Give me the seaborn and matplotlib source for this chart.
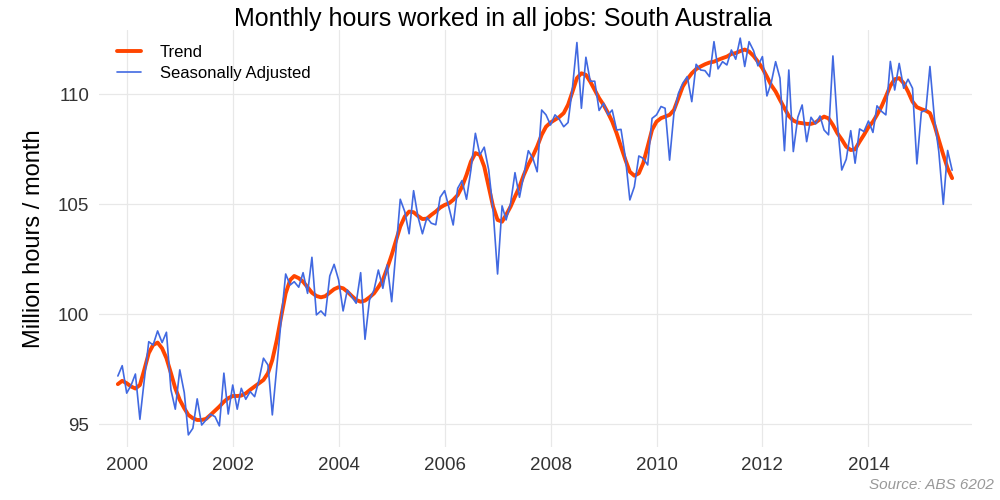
import pandas as pd
import numpy as np
import matplotlib
matplotlib.use("Agg")
import matplotlib.pyplot as plt
import matplotlib.dates as mdates
import seaborn as sns

# monthly series, Nov 1999 - Aug 2015 (million hours / month)
start_month = "1999-11-01"
n_months = 190

trend = [
    96.82, 96.97, 96.86, 96.71, 96.62, 96.78, 97.47, 98.23, 98.60, 98.71,
    98.45, 98.00, 97.32, 96.63, 96.10, 95.72, 95.42, 95.27, 95.19, 95.19,
    95.24, 95.42, 95.61, 95.80, 96.02, 96.18, 96.28, 96.28, 96.30, 96.40,
    96.56, 96.71, 96.86, 97.01, 97.32, 97.92, 98.83, 99.89, 100.95, 101.56,
    101.74, 101.64, 101.48, 101.23, 100.98, 100.83, 100.77, 100.82, 100.98, 101.14,
    101.23, 101.18, 101.03, 100.83, 100.65, 100.57, 100.62, 100.77, 100.95, 101.23,
    101.56, 102.09, 102.70, 103.38, 103.99, 104.44, 104.67, 104.64, 104.47, 104.33,
    104.35, 104.52, 104.67, 104.85, 104.97, 105.05, 105.20, 105.42, 105.80, 106.34,
    106.94, 107.33, 107.25, 106.72, 105.80, 104.90, 104.29, 104.21, 104.52, 104.90,
    105.35, 105.80, 106.34, 106.80, 107.20, 107.63, 108.16, 108.53, 108.72, 108.85,
    108.97, 109.15, 109.53, 110.13, 110.74, 110.96, 110.89, 110.58, 110.20, 109.83,
    109.52, 109.15, 108.77, 108.23, 107.62, 107.01, 106.48, 106.30, 106.41, 106.87,
    107.63, 108.39, 108.76, 108.92, 108.99, 109.07, 109.29, 109.83, 110.36, 110.69,
    110.96, 111.15, 111.27, 111.37, 111.45, 111.49, 111.57, 111.65, 111.72, 111.84,
    111.88, 111.97, 112.04, 111.95, 111.75, 111.49, 111.19, 110.81, 110.43, 110.13,
    109.75, 109.37, 109.02, 108.81, 108.72, 108.69, 108.66, 108.66, 108.72, 108.87,
    108.99, 108.91, 108.61, 108.23, 107.95, 107.62, 107.47, 107.50, 107.85, 108.16,
    108.51, 108.76, 109.07, 109.45, 109.90, 110.39, 110.69, 110.74, 110.51, 110.13,
    109.67, 109.42, 109.33, 109.26, 109.15, 108.61, 107.93, 107.25, 106.64, 106.19,
]

seas_adj = [
    97.19, 97.66, 96.41, 96.78, 97.28, 95.22, 97.00, 98.75, 98.60, 99.24,
    98.71, 99.18, 96.56, 95.68, 97.47, 96.43, 94.51, 94.81, 96.15, 94.96,
    95.19, 95.45, 95.34, 94.92, 97.32, 95.46, 96.78, 95.68, 96.63, 96.13,
    96.48, 96.25, 97.01, 98.00, 97.69, 95.42, 97.60, 99.74, 101.83, 101.33,
    101.48, 101.23, 101.89, 100.95, 102.59, 99.97, 100.15, 99.93, 101.74, 102.27,
    101.56, 100.15, 101.10, 100.80, 100.50, 101.89, 98.86, 100.65, 101.10, 102.01,
    101.18, 102.24, 100.57, 103.00, 105.23, 104.67, 103.66, 105.62, 104.44, 103.66,
    104.40, 104.14, 104.07, 105.32, 105.62, 104.82, 104.06, 105.73, 106.08, 105.23,
    106.56, 108.23, 107.25, 107.60, 106.56, 104.74, 101.83, 104.93, 104.29, 105.05,
    106.44, 105.32, 106.34, 107.44, 107.10, 106.48, 109.29, 109.07, 108.61, 109.07,
    108.87, 108.53, 108.72, 110.35, 112.36, 109.37, 111.69, 110.60, 110.60, 109.27,
    109.60, 109.07, 109.29, 108.38, 108.41, 107.09, 105.20, 105.80, 107.20, 107.09,
    106.79, 108.91, 109.07, 109.45, 109.37, 107.01, 109.15, 110.05, 110.51, 110.81,
    109.67, 111.37, 111.11, 111.08, 110.81, 112.40, 111.16, 111.49, 111.34, 112.02,
    111.60, 112.56, 111.27, 112.40, 111.99, 111.30, 111.72, 109.93, 110.51, 111.49,
    110.74, 107.44, 111.11, 107.40, 108.96, 109.52, 107.85, 108.96, 108.66, 109.02,
    108.38, 108.16, 111.75, 108.69, 106.56, 107.05, 108.35, 106.87, 108.43, 108.31,
    108.79, 108.27, 109.48, 109.23, 109.07, 111.50, 110.20, 111.41, 110.28, 110.69,
    110.28, 106.84, 109.20, 109.28, 111.27, 108.90, 107.40, 105.00, 107.45, 106.55,
]

series_names = ["Trend", "Seasonally Adjusted"]
series_colors = ["#ff4500", "#4169e1"]
series_widths = [2.8, 1.2]

df = pd.DataFrame({
    "date": pd.date_range(start_month, periods=n_months, freq="MS"),
    "Trend": trend,
    "Seasonally Adjusted": seas_adj,
})
long_df = df.melt(id_vars="date", var_name="series", value_name="hours")

sns.set_theme(style="whitegrid")
plt.rcParams["font.family"] = ["Liberation Sans", "DejaVu Sans"]
plt.rcParams["grid.color"] = "#e8e8e8"
plt.rcParams["grid.linewidth"] = 0.9

fig = plt.figure(figsize=(10, 5), dpi=100)
ax = fig.add_axes([0.099, 0.106, 0.873, 0.834])

for name, col, lw in zip(series_names, series_colors, series_widths):
    sns.lineplot(data=long_df[long_df["series"] == name], x="date", y="hours",
                 color=col, linewidth=lw, label=name, ax=ax)

ax.set_xlim(pd.Timestamp("1999-06-24"), pd.Timestamp("2015-12-16"))
ax.set_ylim(93.96, 112.93)
ax.xaxis.set_major_locator(mdates.YearLocator(2))
ax.xaxis.set_major_formatter(mdates.DateFormatter("%Y"))
ax.set_yticks([95, 100, 105, 110])
ax.tick_params(axis="both", labelsize=13.5, colors="#333333", length=0, pad=7)
ax.set_xlabel("")
ax.set_ylabel("Million hours / month", fontsize=17, color="black", labelpad=9)
sns.despine(ax=ax, left=True, bottom=True)

leg = ax.legend(loc="upper left", frameon=False, fontsize=12, handlelength=1.4,
                handletextpad=1.15, labelspacing=0.35, bbox_to_anchor=(0.004, 1.0))
for txt in leg.get_texts():
    txt.set_color("black")

fig.suptitle("Monthly hours worked in all jobs: South Australia",
             fontsize=18, x=0.503, y=0.962, va="center", color="black")
fig.text(0.994, 0.03, "Source: ABS 6202", ha="right", va="center",
         fontsize=11, color="#999999", style="italic")

fig.savefig("out.png", dpi=100)
